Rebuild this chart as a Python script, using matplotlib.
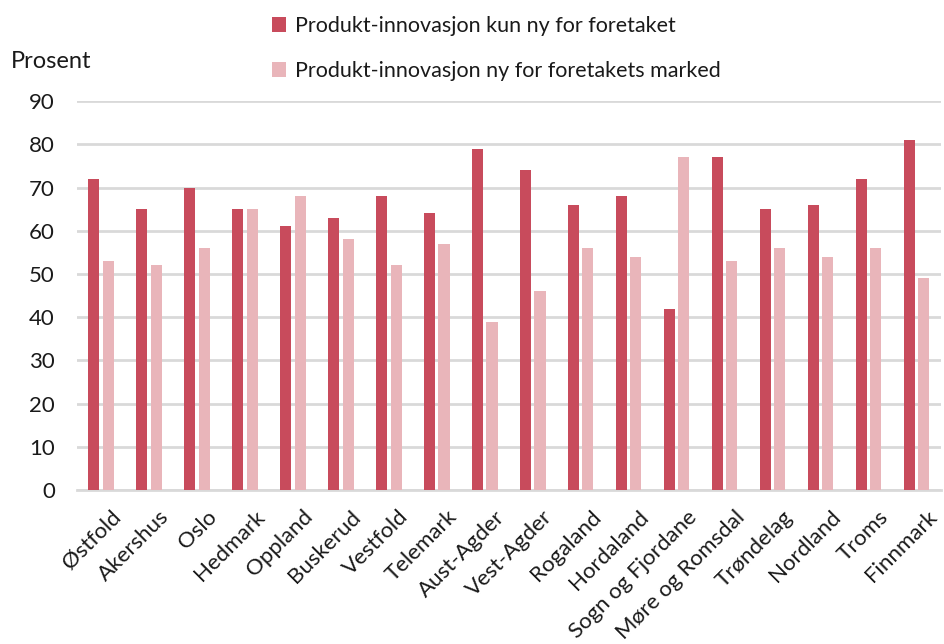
import matplotlib
matplotlib.use("Agg")
import matplotlib.pyplot as plt
import numpy as np

DARK = "#C84B5C"
LIGHT = "#E9B5BA"
GRID = "#D9D9D9"
TEXT = "#1a1a1a"

fylker = ["Østfold", "Akershus", "Oslo", "Hedmark", "Oppland", "Buskerud",
          "Vestfold", "Telemark", "Aust-Agder", "Vest-Agder", "Rogaland",
          "Hordaland", "Sogn og Fjordane", "Møre og Romsdal", "Trøndelag",
          "Nordland", "Troms", "Finnmark"]
kun_foretak = [72, 65, 70, 65, 61, 63, 68, 64, 79, 74, 66, 68, 42, 77, 65, 66, 72, 81]
foretak_marked = [53, 52, 56, 65, 68, 58, 52, 57, 39, 46, 56, 54, 77, 53, 56, 54, 56, 49]
yticks = list(range(0, 100, 10))

plt.rcParams.update({
    "font.family": ["Lato", "DejaVu Sans"],
    "font.size": 16,
    "text.color": TEXT,
})

fig = plt.figure(figsize=(9.44, 6.44), dpi=100)
ax = fig.add_axes([0.0816, 0.239, 0.915, 0.604])

x = np.arange(len(fylker))
w = 0.23
gap = 0.065
ax.bar(x - (w + gap) / 2, kun_foretak, width=w, color=DARK, zorder=3,
       label="Produkt-innovasjon kun ny for foretaket")
ax.bar(x + (w + gap) / 2, foretak_marked, width=w, color=LIGHT, zorder=3,
       label="Produkt-innovasjon ny for foretakets marked")

ax.set_xlim(-0.5, len(fylker) - 0.5)
ax.set_ylim(0, 90)
ax.set_yticks(yticks)
ax.yaxis.grid(True, color=GRID, linewidth=2, zorder=0)
ax.set_axisbelow(True)
for s in ["top", "right", "left"]:
    ax.spines[s].set_visible(False)
ax.spines["bottom"].set_color(GRID)
ax.spines["bottom"].set_linewidth(2)
ax.tick_params(axis="both", length=0, labelsize=16, colors=TEXT)
ax.tick_params(axis="y", pad=16)

# labels end a little right of the group centre, like the original
ax.set_xticks(x + 0.2)
ax.set_xticklabels(fylker, rotation=45, ha="right", rotation_mode="anchor")
ax.tick_params(axis="x", pad=12)

fig.text(0.011, 0.905, "Prosent", fontsize=17, va="center", ha="left")

h, l = ax.get_legend_handles_labels()
fig.legend(h, l, loc="upper left", bbox_to_anchor=(0.268, 1.005), frameon=False,
           fontsize=15.5, handlelength=0.65, handleheight=0.65, handletextpad=0.4,
           labelspacing=1.15)

fig.savefig("out.png", dpi=100)
